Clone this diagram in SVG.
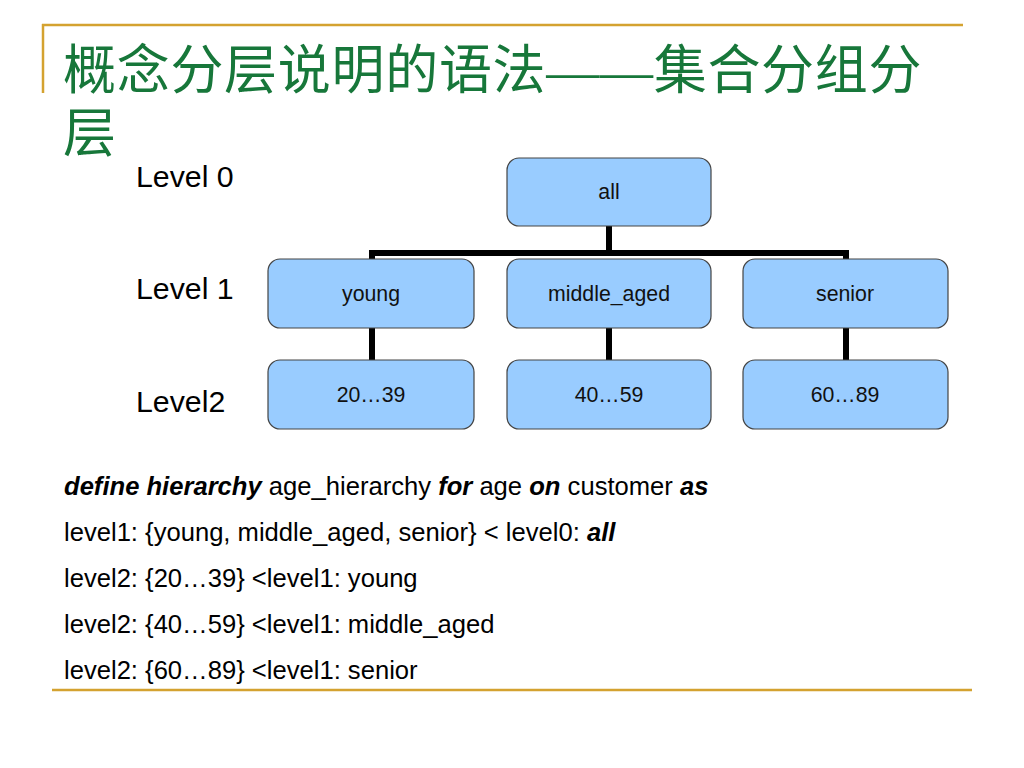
<svg xmlns="http://www.w3.org/2000/svg" width="1024" height="768" viewBox="0 0 1024 768">
<style>
.rule{stroke:#d4a230;stroke-width:2.5;fill:none}
.title{font-family:"Noto Sans CJK SC","Liberation Serif",sans-serif;font-size:53px;letter-spacing:0.7px;fill:#17773a}
.dash{font-family:"Liberation Serif",serif}
.lvl{font-family:"Liberation Sans",Arial,sans-serif;font-size:30.3px;fill:#000}
.box{fill:#99ccff;stroke:#444;stroke-width:1.2}
.nt{font-family:"Liberation Sans",Arial,sans-serif;font-size:21.3px;fill:#111;text-anchor:middle}
.conn{stroke:#000;stroke-width:6;fill:none;stroke-linejoin:miter}
.body{font-family:"Liberation Sans",Arial,sans-serif;font-size:25.6px;fill:#000}
.bi{font-weight:bold;font-style:italic}
</style>
<rect width="1024" height="768" fill="#fff"/>
<g id="frame">
<line class="rule" x1="42" y1="25" x2="963" y2="25"/>
<line class="rule" x1="43" y1="24" x2="43" y2="93"/>
<line class="rule" x1="52" y1="690" x2="972" y2="690"/>
</g>
<g id="title">
<text class="title" x="63" y="89">概念分层说明的语法<tspan class="dash">——</tspan>集合分组分<tspan x="63" y="152">层</tspan></text>
</g>
<g id="levels">
<text class="lvl" x="136" y="187">Level 0</text>
<text class="lvl" x="136" y="299">Level 1</text>
<text class="lvl" x="136" y="412">Level2</text>
</g>
<g id="connectors">
<path class="conn" d="M609 226V253"/>
<path class="conn" d="M372 259V253H846V259"/>
<path class="conn" d="M372 328V360"/>
<path class="conn" d="M609 328V360"/>
<path class="conn" d="M846 328V360"/>
</g>
<g id="node-all"><rect class="box" x="507" y="158" width="204" height="68" rx="12"/><text class="nt" x="609" y="199">all</text></g>
<g id="node-young"><rect class="box" x="268" y="259" width="206" height="69" rx="12"/><text class="nt" x="371" y="301">young</text></g>
<g id="node-middle"><rect class="box" x="507" y="259" width="204" height="69" rx="12"/><text class="nt" x="609" y="301">middle_aged</text></g>
<g id="node-senior"><rect class="box" x="743" y="259" width="205" height="69" rx="12"/><text class="nt" x="845" y="301">senior</text></g>
<g id="node-2039"><rect class="box" x="268" y="360" width="206" height="69" rx="12"/><text class="nt" x="371" y="402">20…39</text></g>
<g id="node-4059"><rect class="box" x="507" y="360" width="204" height="69" rx="12"/><text class="nt" x="609" y="402">40…59</text></g>
<g id="node-6089"><rect class="box" x="743" y="360" width="205" height="69" rx="12"/><text class="nt" x="845" y="402">60…89</text></g>
<g id="definition">
<text class="body" x="64" y="495"><tspan class="bi">define hierarchy</tspan> age_hierarchy <tspan class="bi">for</tspan> age <tspan class="bi">on</tspan> customer <tspan class="bi">as</tspan></text>
<text class="body" x="64" y="541">level1: {young, middle_aged, senior} &lt; level0: <tspan class="bi">all</tspan></text>
<text class="body" x="64" y="587">level2: {20…39} &lt;level1: young</text>
<text class="body" x="64" y="633">level2: {40…59} &lt;level1: middle_aged</text>
<text class="body" x="64" y="679">level2: {60…89} &lt;level1: senior</text>
</g>
</svg>
